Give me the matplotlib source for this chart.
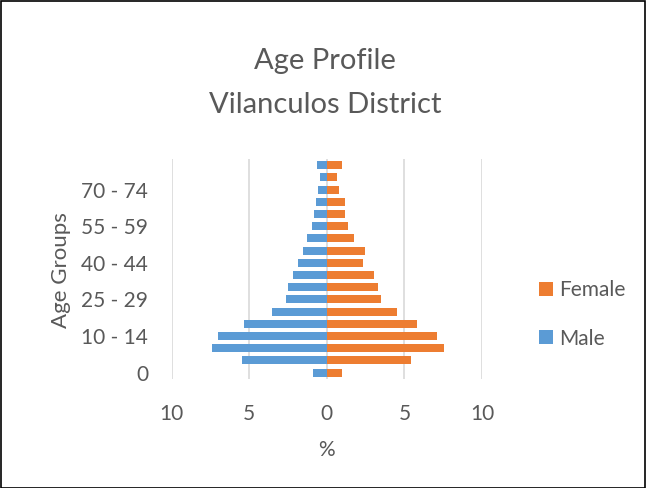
import matplotlib
matplotlib.use("Agg")
import matplotlib.pyplot as plt
from matplotlib.patches import Rectangle, Patch

age_groups = ["0", "1 - 4", "5 - 9", "10 - 14", "15 - 19", "20 - 24", "25 - 29",
              "30 - 34", "35 - 39", "40 - 44", "45 - 49", "50 - 54", "55 - 59",
              "60 - 64", "65 - 69", "70 - 74", "75 - 79", "80+"]
male = [0.9, 5.48, 7.44, 7.05, 5.35, 3.53, 2.65, 2.49, 2.17, 1.89, 1.55, 1.31,
        0.95, 0.82, 0.73, 0.6, 0.45, 0.62]
female = [1.0, 5.4, 7.55, 7.08, 5.83, 4.52, 3.46, 3.31, 3.03, 2.34, 2.43, 1.76,
          1.38, 1.16, 1.14, 0.77, 0.65, 1.0]
x_ticks = [-10, -5, 0, 5, 10]
x_tick_labels = ["10", "5", "0", "5", "10"]

plt.rcParams['font.family'] = ['Lato', 'DejaVu Sans']
txt = '#595959'
blue = '#5B9BD5'
orange = '#ED7D31'

fig = plt.figure(figsize=(6.46, 4.88), dpi=100)
ax = fig.add_axes([0.266, 0.224, 0.48, 0.45])

pos = list(range(len(age_groups)))
ax.barh(pos, [-m for m in male], height=0.65, color=blue, zorder=3)
ax.barh(pos, female, height=0.65, color=orange, zorder=3)

ax.set_xlim(-10, 10)
ax.set_ylim(-0.5, 17.5)
ax.set_xticks(x_ticks)
ax.set_xticklabels(x_tick_labels)
ax.set_yticks(pos[::3])
ax.set_yticklabels(age_groups[::3])
ax.tick_params(axis='both', length=0, colors=txt, labelsize=15)
ax.tick_params(axis='x', pad=18)
ax.tick_params(axis='y', pad=17)
for s in ax.spines.values():
    s.set_visible(False)
ax.grid(axis='x', color='#d9d9d9', linewidth=1.2, zorder=0)
ax.grid(axis='y', visible=False)

fig.text(326 / 646, 1 - 450 / 488, '%', ha='center', va='center', fontsize=15, color=txt)
fig.text(61 / 646, 1 - 270 / 488, 'Age Groups', ha='center', va='center',
         rotation=90, fontsize=16, color=txt)

fig.text(0.503, 0.876, 'Age Profile', ha='center', va='center', fontsize=21, color=txt)
fig.text(0.503, 0.784, 'Vilanculos District', ha='center', va='center', fontsize=21, color=txt)

handles = [Patch(facecolor=orange, label='Female'), Patch(facecolor=blue, label='Male')]
fig.legend(handles=handles, loc='center left', bbox_to_anchor=(0.805, 0.356),
           frameon=False, fontsize=15, labelcolor=txt, handlelength=0.67,
           handleheight=0.67, handletextpad=0.3, labelspacing=1.37)

fig.patches.append(Rectangle((0.001, 0.001), 0.997, 0.997, transform=fig.transFigure,
                             fill=False, edgecolor='black', linewidth=1.2))

fig.savefig('out.png', dpi=100)
